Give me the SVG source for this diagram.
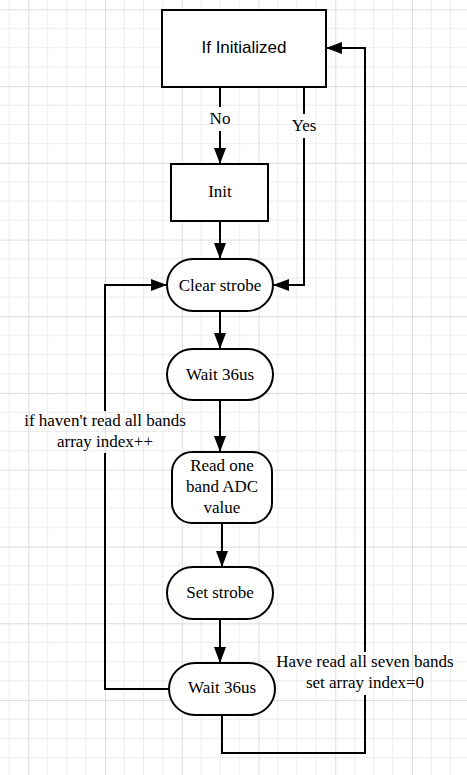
<svg xmlns="http://www.w3.org/2000/svg" width="467" height="775" viewBox="0 0 467 775">
<style>
.node{fill:#fff;stroke:#000;stroke-width:2}
.edge{fill:none;stroke:#000;stroke-width:2}
.t{font-family:"Liberation Serif","Times New Roman",serif;font-size:17px;fill:#000;text-anchor:middle}
.s{font-family:"Liberation Sans",Arial,sans-serif;font-size:17px;fill:#000;text-anchor:middle}
</style>
<defs>
<pattern id="grid" patternUnits="userSpaceOnUse" x="28.3" y="9.3" width="76.75" height="76.75">
<path d="M19.19,0V76.75M38.375,0V76.75M57.56,0V76.75M0,19.19H76.75M0,38.375H76.75M0,57.56H76.75" stroke="#ececec" stroke-width="1" fill="none"/>
<path d="M0.5,0V76.75M0,0.5H76.75" stroke="#dcdcdc" stroke-width="1" fill="none"/>
</pattern>
<marker id="arr" markerUnits="userSpaceOnUse" markerWidth="16" markerHeight="12" refX="16" refY="6" orient="auto">
<path d="M0,0L16,6L0,12z" fill="#000"/>
</marker>
</defs>
<rect width="467" height="775" fill="#fff"/>
<rect width="467" height="775" fill="url(#grid)"/>
<g id="connectors">
<path class="edge" d="M220,87V107"/>
<path class="edge" d="M220,131V164" marker-end="url(#arr)"/>
<path class="edge" d="M304,87V114"/>
<path class="edge" d="M304,138V285H273" marker-end="url(#arr)"/>
<path class="edge" d="M220,221V259" marker-end="url(#arr)"/>
<path class="edge" d="M220,311V349" marker-end="url(#arr)"/>
<path class="edge" d="M220,400V452" marker-end="url(#arr)"/>
<path class="edge" d="M222,523V567" marker-end="url(#arr)"/>
<path class="edge" d="M220,619V663" marker-end="url(#arr)"/>
<path class="edge" d="M169,689H105V453"/>
<path class="edge" d="M105,411V285H167" marker-end="url(#arr)"/>
<path class="edge" d="M222,715V753H365V695"/>
<path class="edge" d="M365,652V48H326" marker-end="url(#arr)"/>
<text class="t" x="220" y="123.5">No</text>
<text class="t" x="304" y="131">Yes</text>
<text class="t" x="105" y="426">if haven't read all bands</text>
<text class="t" x="105" y="447">array index++</text>
<text class="t" x="365" y="667">Have read all seven bands</text>
<text class="t" x="365" y="687.5">set array index=0</text>
</g>
<g id="n1"><rect class="node" x="162" y="10" width="164" height="77"/><text class="s" x="244" y="52.5">If Initialized</text></g>
<g id="n2"><rect class="node" x="171" y="164" width="97" height="57"/><text class="t" x="220" y="197">Init</text></g>
<g id="n3"><rect class="node" x="167" y="259" width="106" height="52" rx="26"/><text class="t" x="220" y="291">Clear strobe</text></g>
<g id="n4"><rect class="node" x="167" y="349" width="106" height="51" rx="25.5"/><text class="t" x="220" y="379.5">Wait 36us</text></g>
<g id="n5"><rect class="node" x="172" y="452" width="100" height="71" rx="20"/><text class="t" x="222" y="471">Read one</text><text class="t" x="222" y="492">band ADC</text><text class="t" x="222" y="512.5">value</text></g>
<g id="n6"><rect class="node" x="167" y="567" width="106" height="52" rx="26"/><text class="t" x="220" y="598">Set strobe</text></g>
<g id="n7"><rect class="node" x="169" y="663" width="106" height="52" rx="26"/><text class="t" x="222" y="693">Wait 36us</text></g>
</svg>
